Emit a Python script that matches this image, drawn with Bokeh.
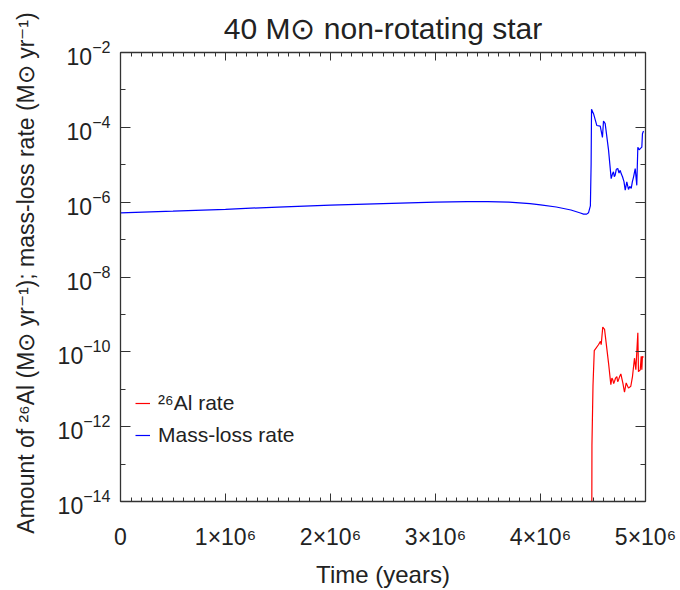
from bokeh.plotting import figure
from bokeh.models import (FixedTicker, LinearAxis, LogAxis, Legend, LegendItem,
                          CustomJSTickFormatter, CustomLabelingPolicy)
from bokeh.embed import file_html
from bokeh.resources import INLINE

# ---- data (time in units of 1e6 years, rates as log10 of Msun/yr) ----
ml_time_myr = [0.0, 0.5, 1.0, 1.5, 2.0, 2.5, 3.0, 3.3, 3.5, 3.7, 3.9, 4.0, 4.15,
               4.29, 4.38, 4.41, 4.44, 4.457, 4.475, 4.482, 4.486,
               4.505, 4.536, 4.569, 4.590, 4.600, 4.616, 4.648, 4.673, 4.685,
               4.695, 4.703, 4.711, 4.722, 4.736, 4.748, 4.759, 4.770, 4.781,
               4.795, 4.807, 4.822, 4.838, 4.850, 4.864, 4.875, 4.886, 4.902,
               4.917, 4.927, 4.940, 4.950, 4.965, 4.971, 4.981]
ml_log10 = [-6.285, -6.24, -6.19, -6.13, -6.08, -6.04, -6.00, -5.985, -5.985,
            -6.0, -6.04, -6.07, -6.13, -6.21, -6.29, -6.32, -6.32, -6.285,
            -6.1, -5.0, -3.52,
            -3.635, -3.95, -3.97, -4.27, -3.83, -3.90, -4.61, -5.37, -5.25,
            -5.19, -5.32, -5.28, -5.12, -5.10, -5.22, -5.15, -5.25, -5.32,
            -5.45, -5.68, -5.46, -5.66, -5.58, -5.63, -5.45, -5.33, -5.10,
            -5.55, -4.53, -4.60, -4.57, -4.53, -4.17, -4.10]

al_time_myr = [4.488, 4.490, 4.500, 4.512, 4.552, 4.571, 4.578, 4.593, 4.610,
               4.648, 4.670, 4.680, 4.689, 4.697, 4.705, 4.715, 4.727, 4.735,
               4.743, 4.755, 4.765, 4.784, 4.800, 4.816, 4.838, 4.860, 4.876,
               4.895, 4.908, 4.927, 4.933, 4.950, 4.959, 4.965, 4.971, 4.981]
al_log10 = [-15.0, -12.5, -10.9, -9.97, -9.81, -9.72, -9.81, -9.34, -9.40,
            -10.30, -10.88, -10.70, -10.75, -10.85, -10.79, -10.70, -10.66,
            -10.80, -10.75, -10.65, -10.59, -10.83, -11.08, -10.83, -10.97,
            -10.92, -10.66, -10.17, -10.48, -9.49, -10.53, -10.48, -10.12,
            -10.48, -10.12, -10.15]

x_major_ticks = [0, 1e6, 2e6, 3e6, 4e6, 5e6]
x_minor_ticks = [i * 1e5 for i in range(0, 51)]
y_major_ticks = [1e-14, 1e-12, 1e-10, 1e-8, 1e-6, 1e-4, 1e-2]
y_minor_ticks = [1e-13, 1e-11, 1e-9, 1e-7, 1e-5, 1e-3]

title_text = "40 M\u2299 non-rotating star"
x_label = "Time (years)"
y_label = "Amount of \u00b2\u2076Al (M\u2299 yr\u207b\u00b9); mass-loss rate (M\u2299 yr\u207b\u00b9)"
legend_labels = ["\u00b2\u2076Al rate", "Mass-loss rate"]

ml_time = [t * 1e6 for t in ml_time_myr]
ml_rate = [10 ** v for v in ml_log10]
al_time = [t * 1e6 for t in al_time_myr]
al_rate = [10 ** v for v in al_log10]

FONT = "Liberation Sans"
AX = "#333333"
TXT = "#222222"

p = figure(width=680, height=590, x_range=(0, 5e6), y_range=(1e-14, 1e-2),
           y_axis_type="log", output_backend="svg", toolbar_location=None,
           min_border_left=120, min_border_right=35, min_border_top=52,
           min_border_bottom=88)
p.outline_line_color = None
p.grid.visible = False
p.background_fill_color = "white"

p.title.text = title_text
p.title.text_font = FONT
p.title.text_font_size = "30px"
p.title.text_font_style = "normal"
p.title.text_color = TXT
p.title.align = "center"
p.title.standoff = 16

r_al = p.line(al_time, al_rate, line_color="#ff0000", line_width=1.2)
r_ml = p.line(ml_time, ml_rate, line_color="#0000ff", line_width=1.2)

xt = FixedTicker(ticks=x_major_ticks, minor_ticks=x_minor_ticks)
yt = FixedTicker(ticks=y_major_ticks, minor_ticks=y_minor_ticks)

def style(ax, major_in, minor_in):
    ax.axis_line_color = AX
    ax.axis_line_width = 1.3
    ax.major_tick_line_color = AX
    ax.minor_tick_line_color = AX
    ax.major_tick_in = major_in
    ax.major_tick_out = 0
    ax.minor_tick_in = minor_in
    ax.minor_tick_out = 0
    ax.major_label_text_font = FONT
    ax.major_label_text_color = TXT
    ax.axis_label_text_font = FONT
    ax.axis_label_text_font_style = "normal"
    ax.axis_label_text_color = TXT

xa = p.xaxis[0]
xa.ticker = xt
xa.formatter = CustomJSTickFormatter(
    code="if (tick == 0) { return '0'; } return (tick/1e6).toFixed(0) + '\u00d710\u2076';")
style(xa, 8, 4)
xa.major_label_text_font_size = "23px"
xa.major_label_standoff = 22
xa.axis_label = x_label
xa.axis_label_text_font_size = "24px"
xa.axis_label_standoff = 8

ya = p.yaxis[0]
ya.ticker = yt
style(ya, 10, 5)
ya.major_label_text_font_size = "23px"
ya.major_label_standoff = 10
ya.major_label_text_baseline = "alphabetic"
ya.axis_label = y_label
ya.axis_label_text_font_size = "23px"
ya.axis_label_standoff = 16

hide_all = CustomLabelingPolicy(code="""
    for (const i of indices) { indices.unset(i) }
    return indices
""")
blank = CustomJSTickFormatter(code="return '';")

top = LinearAxis(ticker=xt, formatter=blank, major_label_policy=hide_all)
style(top, 8, 4)
top.major_label_standoff = 0
p.add_layout(top, "above")

right = LogAxis(ticker=yt, formatter=blank, major_label_policy=hide_all)
style(right, 10, 5)
right.major_label_standoff = 0
p.add_layout(right, "right")

legend = Legend(items=[LegendItem(label=legend_labels[0], renderers=[r_al]),
                       LegendItem(label=legend_labels[1], renderers=[r_ml])],
                location=(15, 54), border_line_color=None,
                background_fill_alpha=0, padding=0, margin=0,
                label_text_font=FONT, label_text_font_size="21px",
                label_text_color=TXT, glyph_width=15, glyph_height=20,
                label_height=20, spacing=8, label_standoff=8)
p.add_layout(legend)

open("out.html", "w").write(file_html(p, INLINE))
